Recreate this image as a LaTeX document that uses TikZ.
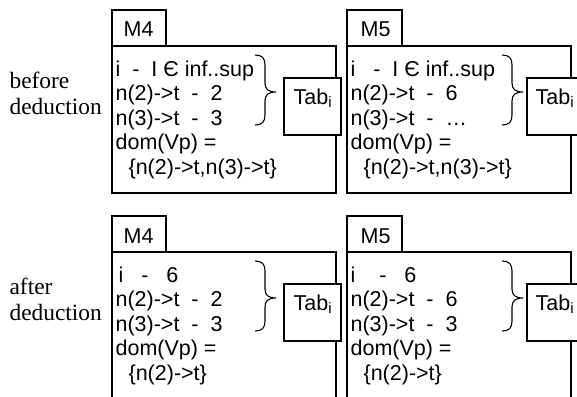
\documentclass[tikz,border=0pt]{standalone}
\usepackage{fontspec}
\setmainfont{Liberation Serif}
\newfontfamily\arialf{Liberation Sans}
\begin{document}
\begin{tikzpicture}[x=1pt,y=-1pt,line width=1.2pt,
  boxn/.style={draw,fill=white,inner sep=0pt,outer sep=0pt,anchor=north west},
  txt/.style={font=\arialf\fontsize{21.5}{24}\selectfont,anchor=base west,inner sep=0pt},
  lbl/.style={font=\fontsize{23.4}{27}\selectfont,anchor=base west,inner sep=0pt},
  curlyb/.pic={\draw[line width=1.1pt] (0,0) .. controls (7,0) and (10,3) .. (10,10) -- (10,28)
     .. controls (10,34) and (13,37) .. (21,37) .. controls (13,37) and (10,40) .. (10,46)
     -- (10,60) .. controls (10,67) and (7,70) .. (0,70);}]
\useasboundingbox (0,0) rectangle (577,396);
\clip (0,0) rectangle (577,396);
% ---------- before deduction ----------
\node[lbl] (lb1) at (9,88) {before};
\node[lbl] (lb2) at (9,114) {deduction};
% M4 top
\node[boxn,minimum width=224pt,minimum height=147pt] (m4a) at (112,46) {};
\node[boxn,minimum width=54pt,minimum height=36pt] (m4at) at (112,10) {};
\node[txt] (m4al) at (123,37) {M4};
\node[boxn,minimum width=57pt,minimum height=57pt] (m4ab) at (284,78) {};
\node[txt] (m4abt) at (293,104) {Tab\textsubscript{i}};
\node[txt] (m4a1) at (115,76) {i~~-~~I Є inf..sup};
\node[txt] (m4a2) at (115,100.5) {n(2)->t~~-~~2};
\node[txt] (m4a3) at (115,125) {n(3)->t~~-~~3};
\node[txt] (m4a4) at (115,149.5) {dom(Vp) =};
\node[txt] (m4a5) at (128,174) {\{n(2)->t,n(3)->t\}};
\pic at (255,55) {curlyb};
% M5 top
\node[boxn,minimum width=224pt,minimum height=147pt] (m5a) at (347,46) {};
\node[boxn,minimum width=55pt,minimum height=36pt] (m5at) at (347,10) {};
\node[txt] (m5al) at (360,37) {M5};
\node[boxn,minimum width=70pt,minimum height=57pt] (m5ab) at (527,78) {};
\node[txt] (m5abt) at (535,104) {Tab\textsubscript{i}};
\node[txt] (m5a1) at (350,76) {i~~~-~~I Є inf..sup};
\node[txt] (m5a2) at (350,100.5) {n(2)->t~~-~~6};
\node[txt] (m5a3) at (350,125) {n(3)->t~~-~~…};
\node[txt] (m5a4) at (350,149.5) {dom(Vp) =};
\node[txt] (m5a5) at (363,174) {\{n(2)->t,n(3)->t\}};
\pic at (502,55) {curlyb};
% ---------- after deduction ----------
\node[lbl] (la1) at (9,294) {after};
\node[lbl] (la2) at (9,320) {deduction};
% M4 bottom
\node[boxn,minimum width=224pt,minimum height=170pt] (m4b) at (112,252) {};
\node[boxn,minimum width=54pt,minimum height=36pt] (m4bt) at (112,216) {};
\node[txt] (m4bl) at (123,243) {M4};
\node[boxn,minimum width=57pt,minimum height=57pt] (m4bb) at (284,284) {};
\node[txt] (m4bbt) at (293,310) {Tab\textsubscript{i}};
\node[txt] (m4b1) at (118,282) {i~~~-~~~6};
\node[txt] (m4b2) at (115,306.5) {n(2)->t~~-~~2};
\node[txt] (m4b3) at (115,331) {n(3)->t~~-~~3};
\node[txt] (m4b4) at (115,355.5) {dom(Vp) =};
\node[txt] (m4b5) at (128,380) {\{n(2)->t\}};
\pic at (255,261) {curlyb};
% M5 bottom
\node[boxn,minimum width=224pt,minimum height=170pt] (m5b) at (347,252) {};
\node[boxn,minimum width=55pt,minimum height=36pt] (m5bt) at (347,216) {};
\node[txt] (m5bl) at (360,243) {M5};
\node[boxn,minimum width=70pt,minimum height=57pt] (m5bb) at (527,284) {};
\node[txt] (m5bbt) at (535,310) {Tab\textsubscript{i}};
\node[txt] (m5b1) at (350,282) {i~~~~-~~~6};
\node[txt] (m5b2) at (350,306.5) {n(2)->t~~-~~6};
\node[txt] (m5b3) at (350,331) {n(3)->t~~-~~3};
\node[txt] (m5b4) at (350,355.5) {dom(Vp) =};
\node[txt] (m5b5) at (363,380) {\{n(2)->t\}};
\pic at (502,261) {curlyb};
\end{tikzpicture}
\end{document}
